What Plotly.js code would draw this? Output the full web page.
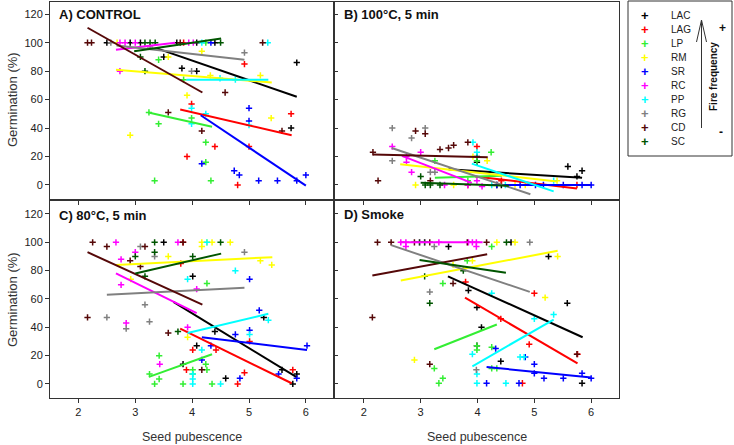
<!DOCTYPE html>
<html><head><meta charset="utf-8">
<script src="https://cdn.plot.ly/plotly-3.0.1.min.js"></script>
<style>html,body{margin:0;padding:0;background:#fff}#chart{width:734px;height:445px}</style>
</head><body><div id="chart"></div>
<script>
// ---------- categories ----------
const species = ['LAC','LAG','LP','RM','SR','RC','PP','RG','CD','SC'];
const colors = ['#000000','#ff0000','#33ee33','#ffff00','#0000ff','#ff00ff','#00ffff','#808080','#550808','#005500'];
const panelTitles = ['A) CONTROL','B) 100°C, 5 min','C) 80°C, 5 min','D) Smoke'];
const xTicks = [2,3,4,5,6];
const yTicks = [0,20,40,60,80,100,120];

// ---------- Panel A: control (order = species) ----------
const A_x = [
  [2.5,2.91,3.09,3.5,3.73,3.82,4.08,4.08,4.4,5.84,5.74],
  [3.85,4.92,3.99,5.74,4.4,5.0,3.91,4.8],
  [4.24,3.41,3.85,3.24,3.41,3.99,4.24,4.24,3.34,4.33],
  [3.58,4.17,4.32,5.2,3.91,5.39,2.91,2.68],
  [4.33,5.0,5.0,4.17,4.74,4.83,5.17,5.5,5.84,6.0],
  [2.73,2.82,3.0,3.94,4.02,2.73],
  [4.17,5.33,4.49,4.76,3.99,4.24,3.99,5.0],
  [2.57,3.26,3.99,4.92],
  [2.16,2.23,3.79,5.24,4.58,3.58,4.17,5.58],
  [3.17,3.26,3.35,4.5,3.09,3.17]
];
const A_y = [
  [100,100,100,90,100,82,100,80,100,86,40],
  [100,85,57,50,27,27,20,0],
  [100,88,74,51,43,47,30,16,3,3],
  [90,94,77,77,63,47,35,100],
  [100,54,45,15,10,7,3,3,3,7],
  [100,100,100,100,100,80],
  [100,100,75,74,54,50,43,42],
  [100,97,80,93],
  [100,100,100,100,65,51,38,38],
  [100,100,100,100,90,80]
];
const A_fitX = [[3.38,5.84],[3.79,5.75],[3.23,4.35],[2.66,5.4],[4.15,6.0],[2.66,3.7],[3.9,5.34],[2.67,4.92],[2.16,4.18],[2.98,4.51]];
const A_fitY = [[96,62],[53,35],[51,41],[81,72],[49,-0.5],[95,100],[74,74],[98,88],[110.5,65],[94,103]];

// ---------- Panel B: 100°C, 5 min ----------
const B_x = [
  [3.99,3.99,5.59,5.84,5.75,4.34,4.42],
  [3.99,4.42,5.75,3.83],
  [3.25,3.99,4.24,3.83],
  [3.92,4.17,2.91,3.58,4.66,4.84,5.4],
  [4.34,4.75,5.02,5.16,5.51,5.84,6.0],
  [2.5,2.75,2.75,2.84,3.0,3.42,3.83,3.99,4.08],
  [3.92,3.99,5.34,4.25,4.49],
  [2.5,2.5,2.84,3.08,3.17,3.25],
  [2.16,2.25,2.91,3.08,3.34,3.49,3.58,3.83,3.17],
  [3.0,3.08,3.17,3.34]
];
const B_y = [
  [20,16,13,10,6,0,0],
  [27,3,0,0],
  [17,17,23,3],
  [20,17,0,0,0,0,3],
  [0,0,0,0,0,0,0],
  [27,20,16,9,23,0,0,3,-1],
  [30,23,3,0,0],
  [40,17,33,40,9,9],
  [23,3,38,36,25,26,28,30,3],
  [6,0,0,0]
];
const B_fitX = [[3.49,5.84],[3.96,5.75],[3.25,4.43],[2.64,5.4],[4.25,6.0],[2.67,3.9],[3.9,5.34],[2.49,4.93],[2.16,4.18],[3.0,4.55]];
const B_fitY = [[11,5],[6,-2.5],[5,6.5],[14.5,2.5],[0,0],[20.5,1.5],[15,-4.5],[26,-6.5],[21.5,19.5],[1.5,-0.5]];

// ---------- Panel C: 80°C, 5 min ----------
const C_x = [
  [3.5,4.01,4.4,5.26,3.84,4.08,4.59,5.58,5.77,5.84],
  [3.84,3.8,4.01,4.42,3.9,4.92,4.8,5.01,5.77],
  [4.26,3.42,3.42,3.25,3.34,3.84,4.01,4.01,4.24,4.26,4.35],
  [4.17,4.26,4.35,4.17,4.67,3.58,5.2,5.4,2.92,3.92],
  [5.01,5.18,4.76,5.01,4.17,4.33,4.84,5.52,5.84,6.02],
  [2.66,3.75,3.0,2.75,2.75,2.84,3.43,4.08,3.92],
  [4.26,4.76,3.92,5.34,5.01,4.17,4.01,4.01,4.01,4.5],
  [3.09,3.34,4.92,2.5,2.84,3.17,3.25],
  [2.25,2.5,3.17,3.09,2.16,3.58,4.17,2.91,3.84],
  [3.34,4.5,3.34,3.0,4.01,3.17,3.75]
];
const C_y = [
  [100,76,37,47,14,27,4,10,0,7],
  [100,85,24,24,10,8,0,30,10],
  [71,20,3.5,7,0,0,7,10,14,10,0],
  [100,100,100,97,100,90,87,84,74,33],
  [74,52,35,38,17,27,4,7,4,27],
  [100,100,93,88,70,43,14,67,40],
  [100,80,74,45,35,24,7,3.5,0,0],
  [97,90,93,47,39,56,44],
  [100,97,97,83,47,36,10,87,100],
  [100,100,93,90,90,76,37]
];
const C_fitX = [[3.67,5.83],[3.79,5.75],[3.24,4.35],[2.66,5.41],[4.17,6.02],[2.66,4.08],[3.92,5.34],[2.5,4.92],[2.16,4.18],[3.0,4.51]];
const C_fitY = [[58,5],[39,0.5],[5,21],[84,89.5],[33,24],[78,50],[36,49.5],[63,68],[93,56],[78,92]];

// ---------- Panel D: smoke ----------
const D_x = [
  [3.49,4.59,5.25,3.84,3.99,4.07,5.58,3.99,4.41,5.84],
  [3.79,5.0,4.41,4.91,5.76,4.79],
  [4.25,3.82,3.39,3.99,3.99,4.25,4.25,4.34,3.24,3.39,3.32],
  [4.34,4.66,3.91,3.57,5.41,5.19,2.89],
  [4.32,4.16,4.73,4.84,5.0,5.0,5.17,5.51,5.84,6.0],
  [2.65,2.74,2.98,3.07,3.32,3.84,3.91,3.98,2.74,3.98],
  [4.25,5.0,5.34,3.91,4.75,4.82,3.99,3.99,4.5],
  [3.24,4.92,3.16,3.98],
  [2.24,2.48,2.89,3.16,3.82,4.16,2.15,3.16,3.57,5.75],
  [2.98,3.07,4.51,3.07,3.75,3.16]
];
const D_y = [
  [97,100,90,66,54,40,57,27,16,0.5],
  [72,64,46,28,21,0.5],
  [97,87,71,24,27,26,11,11,11,4,0.5],
  [100,100,87,84,90,61,17],
  [25,0.5,0.5,19,14,7.5,4,4,7.5,4],
  [100,100,100,100,100,100,100,100,97,97],
  [64,46,49,21,19,19,7,0.5,0.5],
  [97,100,65,10],
  [100,100,100,100,100,100,47,14,71,21],
  [100,100,100,76,80,57]
];
const D_fitX = [[3.48,5.85],[3.78,5.76],[3.24,4.34],[2.65,5.41],[4.16,6.0],[2.63,4.09],[3.91,5.34],[2.48,4.92],[2.15,4.17],[2.98,4.5]];
const D_fitY = [[76,33],[61,14.5],[24.5,42],[73,94],[12,4.5],[100,100],[12.5,45.5],[98,65],[76.5,91.5],[87.5,78.5]];

// ---------- build ----------
const W = 734, H = 445;
const px = v => v / W, py = v => 1 - v / H;
const FONT = 'Arial, "Liberation Sans", sans-serif';
const panels = [
  {xs:A_x, ys:A_y, fx:A_fitX, fy:A_fitY, xa:'x',  ya:'y'},
  {xs:B_x, ys:B_y, fx:B_fitX, fy:B_fitY, xa:'x2', ya:'y2'},
  {xs:C_x, ys:C_y, fx:C_fitX, fy:C_fitY, xa:'x3', ya:'y3'},
  {xs:D_x, ys:D_y, fx:D_fitX, fy:D_fitY, xa:'x4', ya:'y4'}
];
const traces = [];
panels.forEach(p => {
  species.forEach((s, i) => {
    traces.push({type:'scatter', mode:'markers', x:p.xs[i], y:p.ys[i], xaxis:p.xa, yaxis:p.ya,
      name:s, showlegend:false, hoverinfo:'skip',
      marker:{symbol:'cross-thin', size:4.5, color:colors[i], line:{color:colors[i], width:1.5}}});
  });
  species.forEach((s, i) => {
    traces.push({type:'scatter', mode:'lines', x:p.fx[i], y:p.fy[i], xaxis:p.xa, yaxis:p.ya,
      name:s, showlegend:false, hoverinfo:'skip', line:{color:colors[i], width:2}});
  });
});

const xL = [px(50), px(334.3)], xR = [px(334.3), px(619)];
const yT = [py(199.5), py(2)], yB = [py(398), py(199.5)];
const axBase = {showline:true, mirror:true, linecolor:'#333', linewidth:1, showgrid:false, zeroline:false,
  ticklen:4, tickcolor:'#333', tickfont:{family:FONT, size:11, color:'#222'}};
const xaxBase = Object.assign({}, axBase, {tickvals:xTicks, ticks:'outside'});
const yaxBase = Object.assign({}, axBase, {tickvals:yTicks});

const annotations = [];
const titlePos = [[57,15],[342,15],[57,215],[342,214]];
panelTitles.forEach((t, i) => annotations.push({xref:'paper', yref:'paper', x:px(titlePos[i][0]), y:py(titlePos[i][1]),
  xanchor:'left', yanchor:'middle', showarrow:false, text:'<b>'+t+'</b>', font:{family:FONT, size:13, color:'#111'}}));
[100, 300].forEach(yc => annotations.push({xref:'paper', yref:'paper', x:px(12), y:py(yc), textangle:-90,
  xanchor:'center', yanchor:'middle', showarrow:false, text:'Germination (%)', font:{family:FONT, size:13, color:'#333'}}));
[192, 477].forEach(xc => annotations.push({xref:'paper', yref:'paper', x:px(xc), y:py(437),
  xanchor:'center', yanchor:'middle', showarrow:false, text:'Seed pubescence', font:{family:FONT, size:12.5, color:'#333'}}));
// legend box content
species.forEach((s, i) => {
  const yy = py(15.7 + 14 * i);
  annotations.push({xref:'paper', yref:'paper', x:px(645), y:yy, xanchor:'center', yanchor:'middle', showarrow:false,
    text:'<b>+</b>', font:{family:FONT, size:13, color:colors[i]}});
  annotations.push({xref:'paper', yref:'paper', x:px(669), y:yy, xanchor:'left', yanchor:'middle', showarrow:false,
    text:s, font:{family:FONT, size:10, color:'#222'}});
});
annotations.push({xref:'paper', yref:'paper', x:px(714), y:py(77), textangle:-90, xanchor:'center', yanchor:'middle',
  showarrow:false, text:'<b>Fire frequency</b>', font:{family:FONT, size:10, color:'#111'}});
annotations.push({xref:'paper', yref:'paper', x:px(722), y:py(28), xanchor:'center', yanchor:'middle',
  showarrow:false, text:'<b>+</b>', font:{family:FONT, size:12, color:'#111'}});
annotations.push({xref:'paper', yref:'paper', x:px(721), y:py(132), xanchor:'center', yanchor:'middle',
  showarrow:false, text:'<b>-</b>', font:{family:FONT, size:12, color:'#111'}});

const shapes = [
  {type:'rect', xref:'paper', yref:'paper', x0:px(628), x1:px(732), y0:py(156), y1:py(1), line:{color:'#333', width:1}},
  {type:'line', xref:'paper', yref:'paper', x0:px(701.5), x1:px(701.5), y0:py(128), y1:py(21), line:{color:'#333', width:1}},
  {type:'path', xref:'paper', yref:'paper', path:'M '+px(696.5)+','+py(42)+' L '+px(701.5)+','+py(20)+' L '+px(706.5)+','+py(42),
    line:{color:'#333', width:1}}
];

const layout = {
  width:W, height:H, margin:{l:0, r:0, t:0, b:0}, paper_bgcolor:'#fff', plot_bgcolor:'#fff',
  font:{family:FONT}, showlegend:false,
  xaxis:  Object.assign({}, xaxBase, {domain:xL, anchor:'y',  range:[1.5,6.5],  showticklabels:false}),
  yaxis:  Object.assign({}, yaxBase, {domain:yT, anchor:'x',  range:[-10.2,128.6], ticks:'outside', showticklabels:true}),
  xaxis2: Object.assign({}, xaxBase, {domain:xR, anchor:'y2', range:[1.48,6.49], showticklabels:false}),
  yaxis2: Object.assign({}, yaxBase, {domain:yT, anchor:'x2', range:[-10.2,128.6], ticks:'inside', showticklabels:false}),
  xaxis3: Object.assign({}, xaxBase, {domain:xL, anchor:'y3', range:[1.5,6.5],  showticklabels:true}),
  yaxis3: Object.assign({}, yaxBase, {domain:yB, anchor:'x3', range:[-9.9,130.2], ticks:'outside', showticklabels:true}),
  xaxis4: Object.assign({}, xaxBase, {domain:xR, anchor:'y4', range:[1.48,6.49], showticklabels:true}),
  yaxis4: Object.assign({}, yaxBase, {domain:yB, anchor:'x4', range:[-9.9,130.2], ticks:'inside', showticklabels:false}),
  annotations:annotations, shapes:shapes
};
Plotly.newPlot('chart', traces, layout, {staticPlot:true, displayModeBar:false});
</script>
</body></html>
